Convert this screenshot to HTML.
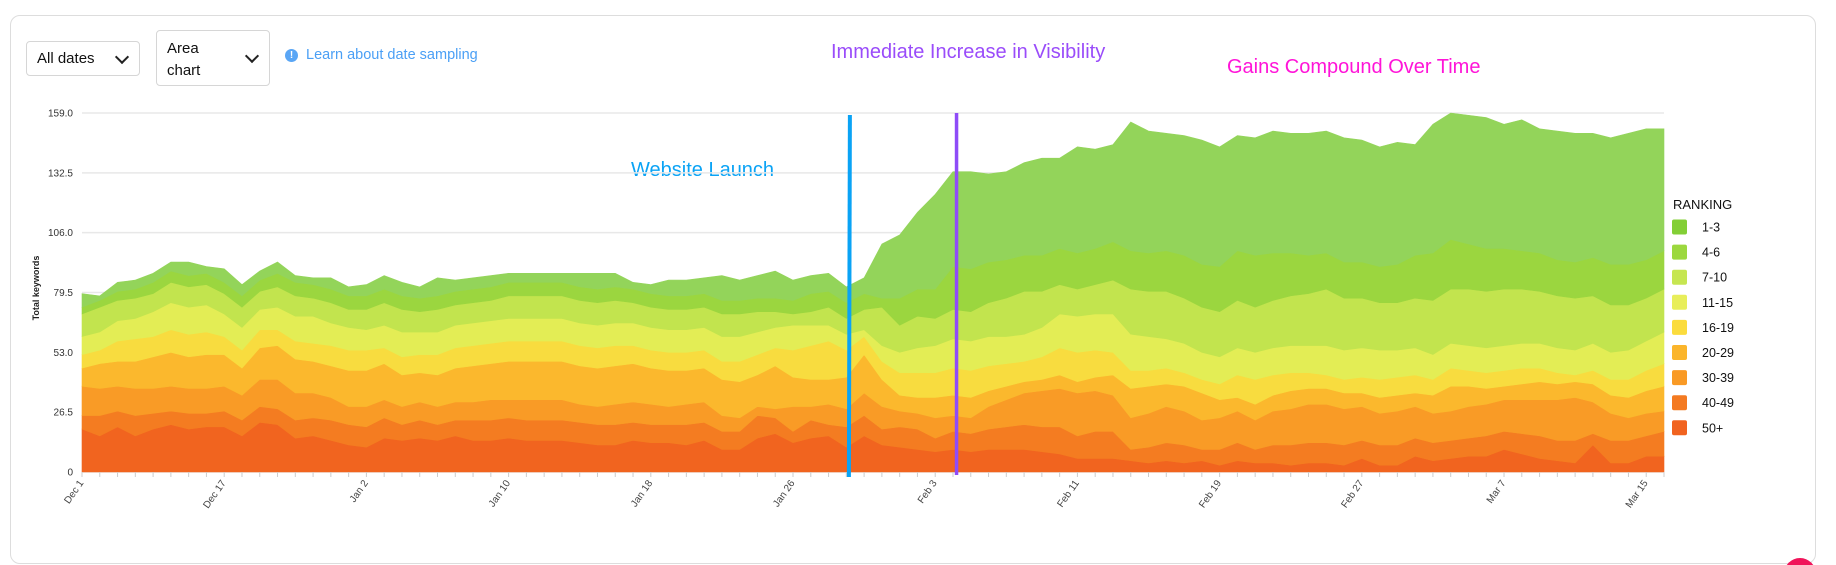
<!DOCTYPE html>
<html><head><meta charset="utf-8">
<style>
html,body{margin:0;padding:0;background:#fff;width:1836px;height:565px;overflow:hidden;}
body{position:relative;font-family:"Liberation Sans",sans-serif;}
.card{position:absolute;left:10px;top:15px;width:1806px;height:549px;border:1px solid #ddd;border-radius:10px;box-sizing:border-box;}
.dd{position:absolute;border:1px solid #d6d6d6;border-radius:4px;box-sizing:border-box;font-size:15px;color:#111;}
.chev{position:absolute;width:8px;height:8px;border-right:2px solid #222;border-bottom:2px solid #222;transform:rotate(45deg);}
.ann{position:absolute;font-size:20px;white-space:nowrap;}
</style></head><body>
<div class="card"></div>
<div class="dd" style="left:26px;top:41px;width:114px;height:35px;">
  <span style="position:absolute;left:10px;top:8px;">All dates</span>
  <span class="chev" style="left:90px;top:10px;"></span>
</div>
<div class="dd" style="left:156px;top:30px;width:114px;height:56px;">
  <span style="position:absolute;left:10px;top:7px;line-height:22px;">Area<br>chart</span>
  <span class="chev" style="left:90px;top:20px;"></span>
</div>
<div style="position:absolute;left:285px;top:49px;width:13px;height:13px;border-radius:50%;background:#5aa6f5;color:#fff;font-size:10px;font-weight:bold;text-align:center;line-height:13px;">!</div>
<div style="position:absolute;left:306px;top:47px;font-size:14.5px;color:#4a9ff5;">Learn about date sampling</div>
<div class="ann" style="left:631px;top:159px;color:#0aa3f5;">Website Launch</div>
<div class="ann" style="left:831px;top:41px;color:#9a4cfa;">Immediate Increase in Visibility</div>
<div class="ann" style="left:1227px;top:56px;color:#ff14d8;">Gains Compound Over Time</div>
<div style="position:absolute;left:1784px;top:558px;width:32px;height:32px;border-radius:50%;background:#f0145a;"></div>

<svg id="chart" width="1836" height="565" style="position:absolute;left:0;top:0;"></svg>

<script>
const categories=["Dec 1","","","","","","","","Dec 17","","","","","","","","Jan 2","","","","","","","","Jan 10","","","","","","","","Jan 18","","","","","","","","Jan 26","","","","","","","","Feb 3","","","","","","","","Feb 11","","","","","","","","Feb 19","","","","","","","","Feb 27","","","","","","","","Mar 7","","","","","","","","Mar 15",""];
const seriesNames=["50+","40-49","30-39","20-29","16-19","11-15","7-10","4-6","1-3"];
const s50=[19,16,20,16,19,21,19,20,20,16,22,21,15,16,14,12,11,15,14,15,14,16,14,14,15,14,14,14,13,12,12,14,13,13,12,14,10,10,15,17,13,15,16,11,16,12,11,10,9,10,9,10,10,10,9,8,6,6,6,5,4,5,4,5,3,5,4,4,3,4,4,3,6,3,3,7,5,6,7,7,10,8,6,5,4,12,4,4,7,7];
const s40=[6,9,7,9,7,6,7,6,7,7,7,7,8,8,9,9,9,9,7,8,7,7,9,9,9,9,9,9,9,9,9,8,8,8,9,8,8,8,10,7,5,8,5,9,9,7,9,9,6,8,8,9,10,11,11,12,10,12,12,5,7,8,8,5,7,8,6,8,9,9,9,9,8,9,9,8,8,8,8,9,8,9,10,9,10,5,10,10,9,11];
const s30=[13,12,11,12,11,11,11,11,11,11,12,13,12,11,10,8,9,8,8,8,8,8,8,9,8,9,9,9,8,8,9,9,9,8,9,9,7,6,4,4,11,6,9,8,10,10,7,7,9,7,7,10,12,14,16,17,19,18,16,14,15,16,15,13,14,14,13,15,16,17,17,16,15,14,15,14,13,13,14,14,14,15,16,18,19,14,12,10,10,9];
const s20=[8,11,11,12,14,15,14,15,14,12,14,15,15,14,14,16,16,16,14,13,14,15,16,16,17,17,17,17,17,17,17,17,16,16,15,15,16,16,14,19,13,12,11,14,17,12,7,7,9,9,9,7,6,5,5,6,5,6,9,13,12,10,11,12,8,6,7,7,8,7,7,7,6,7,7,6,8,11,9,7,6,7,8,7,7,8,8,9,10,11];
const s16=[6,6,9,10,9,10,10,10,8,8,8,7,8,8,9,9,9,7,8,8,9,9,9,9,9,9,9,9,9,9,9,8,8,8,8,8,8,9,9,8,12,15,17,12,8,8,10,11,11,12,12,11,10,9,10,12,13,12,10,8,7,7,6,6,7,10,11,9,8,7,6,6,7,8,8,8,7,8,7,7,7,7,6,5,3,6,7,8,9,10];
const s11=[8,8,9,9,11,12,12,12,10,10,9,10,11,12,10,10,9,10,11,10,10,10,10,10,10,10,10,10,10,10,10,10,10,10,10,10,11,11,10,9,11,9,7,7,3,7,9,11,12,13,13,13,12,12,13,15,16,16,17,16,15,13,13,12,12,12,12,12,12,12,13,13,13,13,12,12,11,11,11,11,11,11,11,11,11,12,12,13,13,14];
const s7=[10,11,9,9,8,9,9,9,9,9,8,9,9,8,9,8,9,10,10,9,10,9,9,9,10,10,10,10,10,10,10,9,9,9,9,9,10,10,9,7,5,6,8,7,9,17,12,14,12,13,13,15,17,19,16,13,12,13,15,20,20,21,20,20,20,21,20,21,22,23,25,23,22,21,21,22,24,24,25,25,25,24,23,23,23,21,21,20,19,19];
const s4=[3,3,4,4,5,5,5,5,5,5,5,6,6,6,6,6,6,6,6,6,6,6,6,6,6,6,6,6,6,6,6,6,6,6,6,6,6,6,6,6,6,8,7,7,7,4,12,12,13,19,19,18,17,16,16,16,16,16,17,17,17,18,19,19,20,22,23,21,19,17,16,16,16,16,17,19,21,22,20,19,18,17,17,16,16,17,18,18,17,17];
const s1=[6,2,4,4,4,4,6,3,6,5,4,5,3,3,5,4,5,6,6,5,8,5,5,5,4,4,4,4,6,7,6,3,4,7,7,7,11,9,10,12,9,8,8,7,7,24,28,34,42,42,43,39,39,41,43,40,47,44,43,57,54,52,53,55,53,51,52,54,53,54,54,55,54,53,54,49,57,56,57,58,55,58,55,57,57,55,56,58,58,54];
const yTicks=[0,26.5,53.0,79.5,106.0,132.5,159.0];
const yTickLabels=["0","26.5","53.0","79.5","106.0","132.5","159.0"];
const launchIndex=43.2, visibilityIndex=49.2;

const series=[s50,s40,s30,s20,s16,s11,s7,s4,s1];
const colors=["#f1641f","#f47c21","#f99b26","#fbb82d","#f8dc3f","#e3ed55","#c2e44e","#9bd63f","#93d45a"];
const legendColors=["#83cf36","#9cd83e","#c6e651","#e8ee5a","#fbdc3d","#fbb52b","#f99a25","#f47a21","#f1631f"];
const legendLabels=["1-3","4-6","7-10","11-15","16-19","20-29","30-39","40-49","50+"];
const NS="http://www.w3.org/2000/svg";
const svg=document.getElementById('chart');
const X0=82,X1=1664,Y0=472,Y1=113,YMAX=159;
const n=categories.length;
function xs(i){return X0+(X1-X0)*i/(n-1);}
function ys(v){return Y0-(Y0-Y1)*v/YMAX;}
function mk(tag,attrs){const e=document.createElementNS(NS,tag);for(const k in attrs)e.setAttribute(k,attrs[k]);svg.appendChild(e);return e;}

yTicks.forEach((t,k)=>{
  const g=mk('line',{x1:X0,x2:X1,y1:ys(t),y2:ys(t),stroke:'#e8e8e8','stroke-width':1.5});
  
  
  const tx=mk('text',{x:73,y:ys(t)+3.5,'text-anchor':'end','font-size':10,fill:'#333','font-family':'Liberation Sans, sans-serif'});
  tx.textContent=yTickLabels[k];
  
  
});
const yt=mk('text',{x:0,y:0,transform:'translate(39,288) rotate(-90)','text-anchor':'middle','font-size':9,'font-weight':'bold',fill:'#222','font-family':'Liberation Sans, sans-serif'});
yt.textContent='Total keywords';



const cum=new Array(n).fill(0);
series.forEach((s,si)=>{
  const lower=cum.slice();
  for(let i=0;i<n;i++)cum[i]+=s[i];
  let d='M'+xs(0)+','+ys(cum[0]);
  for(let i=1;i<n;i++)d+=' L'+xs(i)+','+ys(cum[i]);
  for(let i=n-1;i>=0;i--)d+=' L'+xs(i)+','+ys(lower[i]);
  d+='Z';
  const p=mk('path',{d:d,fill:colors[si],stroke:colors[si],'stroke-width':0.6});
  
  
});

for(let i=0;i<n;i++){
  const t=mk('line',{x1:xs(i),x2:xs(i),y1:Y0,y2:Y0+5,stroke:'#ccc','stroke-width':1});
  
  
  if(categories[i]){
    const tx=mk('text',{x:0,y:0,transform:'translate('+(xs(i)+2)+','+(Y0+11)+') rotate(-55)','text-anchor':'end','font-size':10,fill:'#444','font-family':'Liberation Sans, sans-serif'});
    tx.textContent=categories[i];
    
    
  }
}

const l1=mk('line',{x1:xs(launchIndex),x2:xs(launchIndex)-1,y1:115,y2:477,stroke:'#0aa3f5','stroke-width':4});


const l2=mk('line',{x1:xs(visibilityIndex),x2:xs(visibilityIndex),y1:113,y2:475,stroke:'#8f4cf8','stroke-width':3.5});



const lt=mk('text',{x:1673,y:209,'font-size':13,fill:'#111','font-family':'Liberation Sans, sans-serif'});
lt.textContent='RANKING';


legendLabels.forEach((lab,k)=>{
  const cy=227+25.1*k;
  const r=mk('rect',{x:1672,y:cy-7.5,width:15,height:15,rx:2,fill:legendColors[k]});
  
  
  const tx=mk('text',{x:1702,y:cy+4.5,'font-size':12.5,fill:'#111','font-family':'Liberation Sans, sans-serif'});
  tx.textContent=lab;
  
  
});
</script>
</body></html>
